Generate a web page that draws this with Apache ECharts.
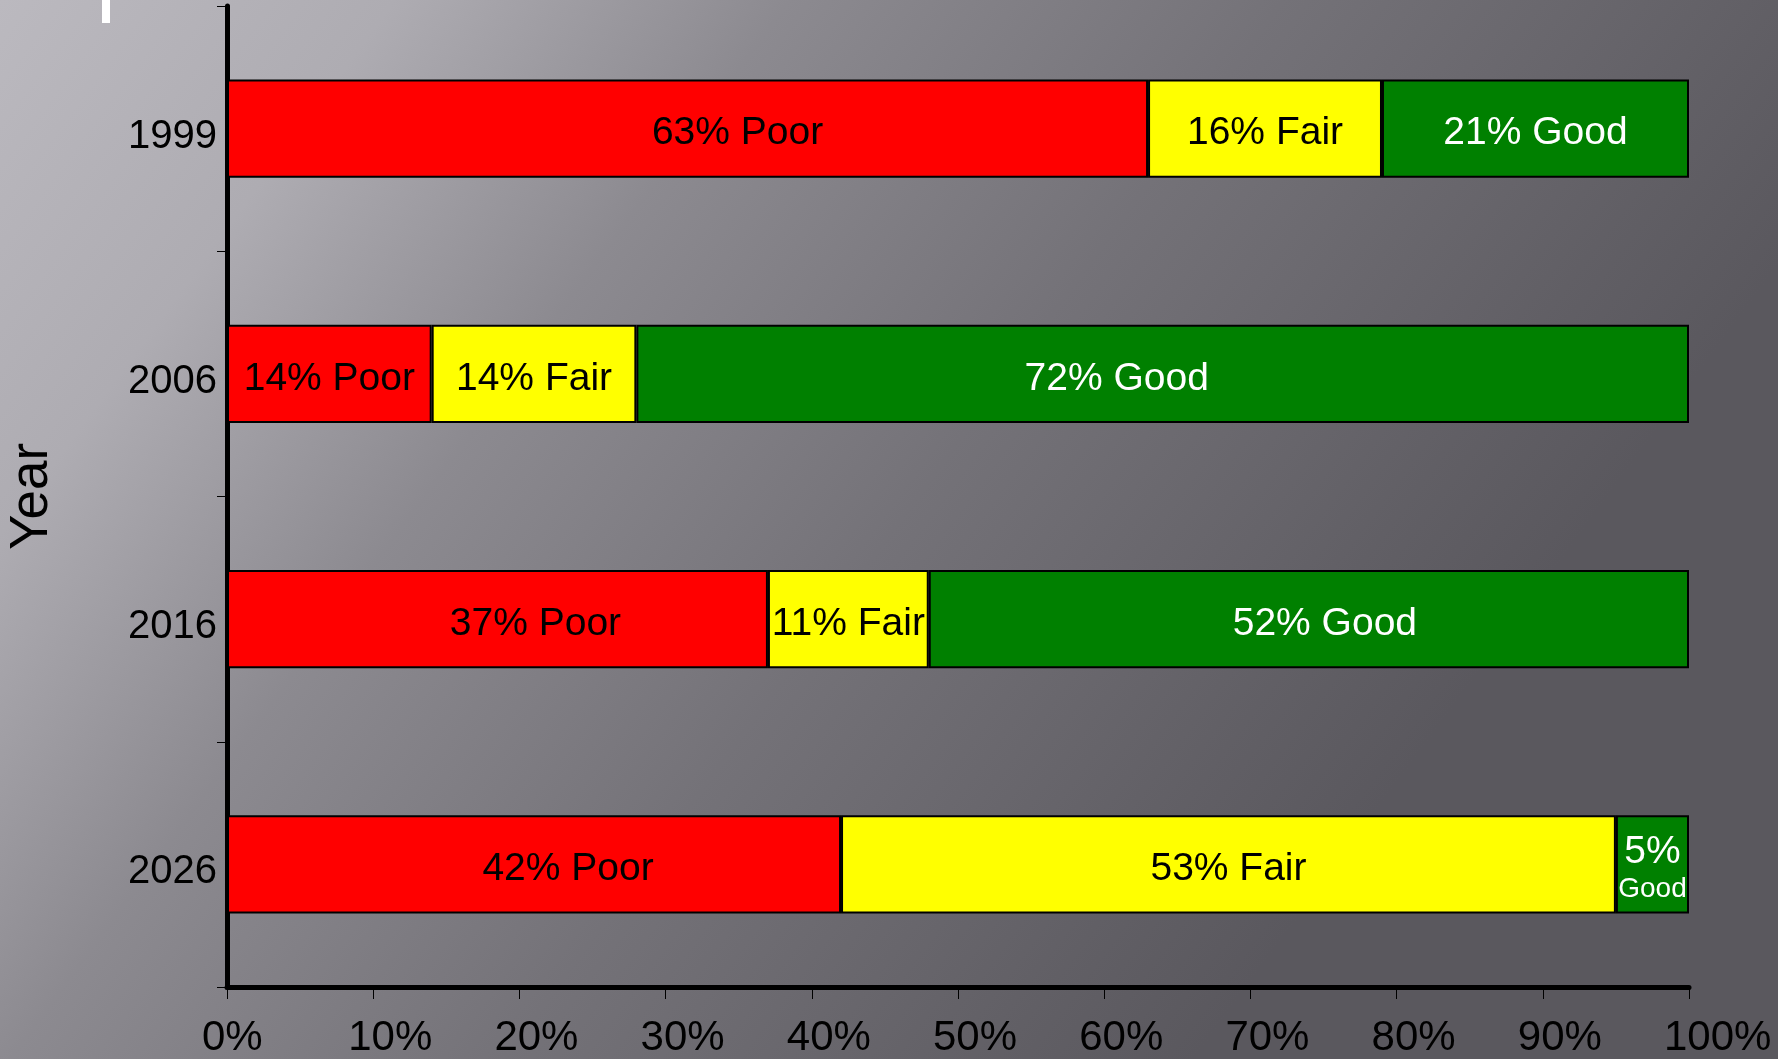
<!DOCTYPE html>
<html lang="en" style="height: 100%">
<head>
  <meta charset="utf-8">
</head>
<body style="height: 100%; margin: 0">
  <div id="container" style="height: 100%"></div>

  <script type="text/javascript" src="https://cdn.jsdelivr.net/npm/echarts@6/dist/echarts.min.js"></script>

  <script type="text/javascript">
    // chart data
    var years = ['1999', '2006', '2016', '2026'];
    var poor = [63, 14, 37, 42];
    var fair = [16, 14, 11, 53];
    var good = [21, 72, 52, 5];
    var xTicks = [0, 10, 20, 30, 40, 50, 60, 70, 80, 90, 100];

    var dom = document.getElementById('container');
    var myChart = echarts.init(dom, null, {
      renderer: 'canvas',
      useDirtyRect: false
    });

    var font = 'Arial, "Liberation Sans", sans-serif';

    // hand-placed text boxes in the original are not all centred
    var nudge = {
      Poor: [50, 0, 38, 34],
      Fair: [0, 0, 0, 0],
      Good: [0, -46, 16, 0]
    };

    function makeSeries(name, values, color, textColor) {
      return {
        name: name,
        type: 'bar',
        stack: 'total',
        barWidth: '40%',
        itemStyle: {
          color: color,
          borderColor: '#000',
          borderWidth: 2
        },
        label: {
          show: true,
          position: 'inside',
          color: textColor,
          fontFamily: font,
          fontSize: 39,
          formatter: function (p) {
            if (p.value < 8) {
              return '{big|' + p.value + '%}\n{small|' + name + '}';
            }
            return p.value + '% ' + name;
          },
          rich: {
            big: { fontSize: 39, fontFamily: font, color: textColor, lineHeight: 40 },
            small: { fontSize: 28, fontFamily: font, color: textColor, lineHeight: 34 }
          }
        },
        data: values.map(function (v, i) {
          return { value: v, label: { offset: [nudge[name][i], 5] } };
        })
      };
    }

    var option = {
      backgroundColor: new echarts.graphic.LinearGradient(0, 0, 0.72, 0.89, [
        { offset: 0, color: '#bbb9bf' },
        { offset: 0.2, color: '#aeacb2' },
        { offset: 0.4, color: '#8c8a90' },
        { offset: 0.65, color: '#747278' },
        { offset: 0.9, color: '#615f65' },
        { offset: 1, color: '#5a585e' }
      ]),
      animation: false,
      grid: {
        left: 227,
        top: 6,
        width: 1462,
        height: 981,
        containLabel: false,
        outerBoundsMode: 'none'
      },
      xAxis: {
        type: 'value',
        min: 0,
        max: 100,
        interval: 10,
        splitLine: { show: false },
        axisLine: { show: true, lineStyle: { color: '#000', width: 5 } },
        axisTick: { show: true, length: 12, lineStyle: { color: '#000', width: 1 } },
        axisLabel: {
          color: '#000',
          fontFamily: font,
          fontSize: 42,
          margin: 30,
          formatter: function (v) {
            return xTicks.indexOf(v) >= 0 ? '{t|' + v + '%}' : '';
          },
          rich: {
            t: { width: 50, align: 'left', fontFamily: font, fontSize: 42, color: '#000' }
          }
        }
      },
      yAxis: {
        type: 'category',
        inverse: true,
        data: years,
        name: 'Year',
        nameLocation: 'middle',
        nameGap: 168,
        nameRotate: 90,
        nameTextStyle: { color: '#000', fontFamily: font, fontSize: 53 },
        axisLine: { show: true, lineStyle: { color: '#000', width: 5 } },
        axisTick: { show: true, length: 10, lineStyle: { color: '#000', width: 1 } },
        axisLabel: {
          color: '#000',
          fontFamily: font,
          fontSize: 40,
          margin: 10,
          formatter: function (v) {
            return '{y|' + v + '}';
          },
          rich: {
            y: { fontFamily: font, fontSize: 40, color: '#000', padding: [16, 0, 0, 0] }
          }
        }
      },
      graphic: [
        {
          type: 'rect',
          left: 102,
          top: 0,
          shape: { width: 8, height: 23 },
          style: { fill: '#fff' }
        }
      ],
      series: [
        makeSeries('Poor', poor, '#ff0000', '#000'),
        makeSeries('Fair', fair, '#ffff00', '#000'),
        makeSeries('Good', good, '#008000', '#fff')
      ]
    };

    myChart.setOption(option);
    window.addEventListener('resize', myChart.resize);
  </script>
</body>
</html>
